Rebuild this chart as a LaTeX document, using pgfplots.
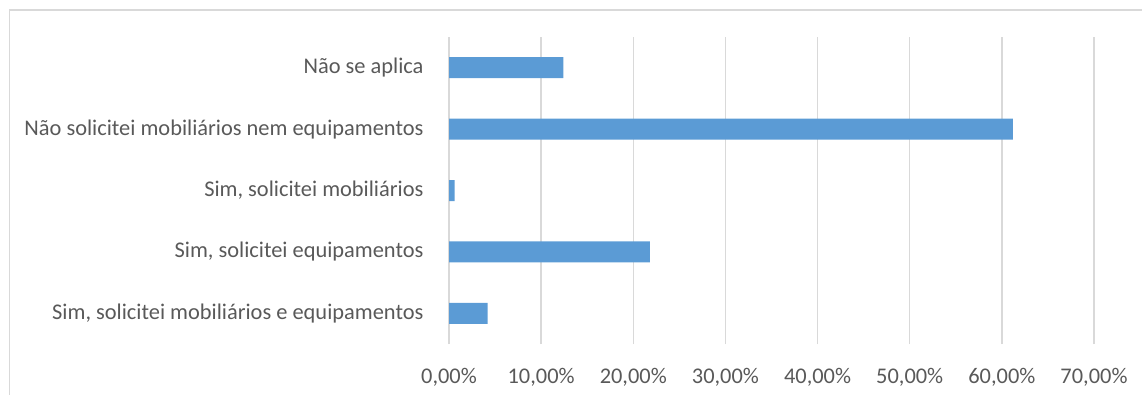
\documentclass[border=0pt]{standalone}
\usepackage{pgfplots}
\pgfplotsset{compat=1.18}
\usepackage{fontspec}
\setmainfont{Carlito}
\definecolor{barblue}{HTML}{5B9BD5}
\definecolor{gridgray}{HTML}{D9D9D9}
\definecolor{txtgray}{HTML}{595959}
\begin{document}
\begin{tikzpicture}
\useasboundingbox (0,0) rectangle (1142pt,394pt);
\draw[gridgray, line width=1.5pt] (9.5pt,-10pt) -- (9.5pt,384pt) -- (1160pt,384pt);
\begin{axis}[
  at={(449pt,50pt)}, anchor=south west,
  scale only axis, width=645pt, height=307pt,
  xbar, bar width=21pt,
  xmin=0, xmax=70, ymin=-0.5, ymax=4.5,
  xtick={0,10,...,70},
  xticklabels={{0,00\%},{10,00\%},{20,00\%},{30,00\%},{40,00\%},{50,00\%},{60,00\%},{70,00\%}},
  ytick={0,1,2,3,4},
  yticklabels={{Sim, solicitei mobiliários e equipamentos},{Sim, solicitei equipamentos},{Sim, solicitei mobiliários},{Não solicitei mobiliários nem equipamentos},{Não se aplica}},
  xmajorgrids, grid style={gridgray, line width=1.3pt},
  axis line style={draw=none},
  major tick length=0pt,
  tick label style={font=\fontsize{22.4}{26}\selectfont, text=txtgray},
  yticklabel style={anchor=east, xshift=-22pt},
  xticklabel style={anchor=north, yshift=-21pt},
  clip=false,
]
\addplot[fill=barblue, draw=none] coordinates {(4.2,0) (21.8,1) (0.6,2) (61.2,3) (12.4,4)};
\end{axis}
\end{tikzpicture}
\end{document}
